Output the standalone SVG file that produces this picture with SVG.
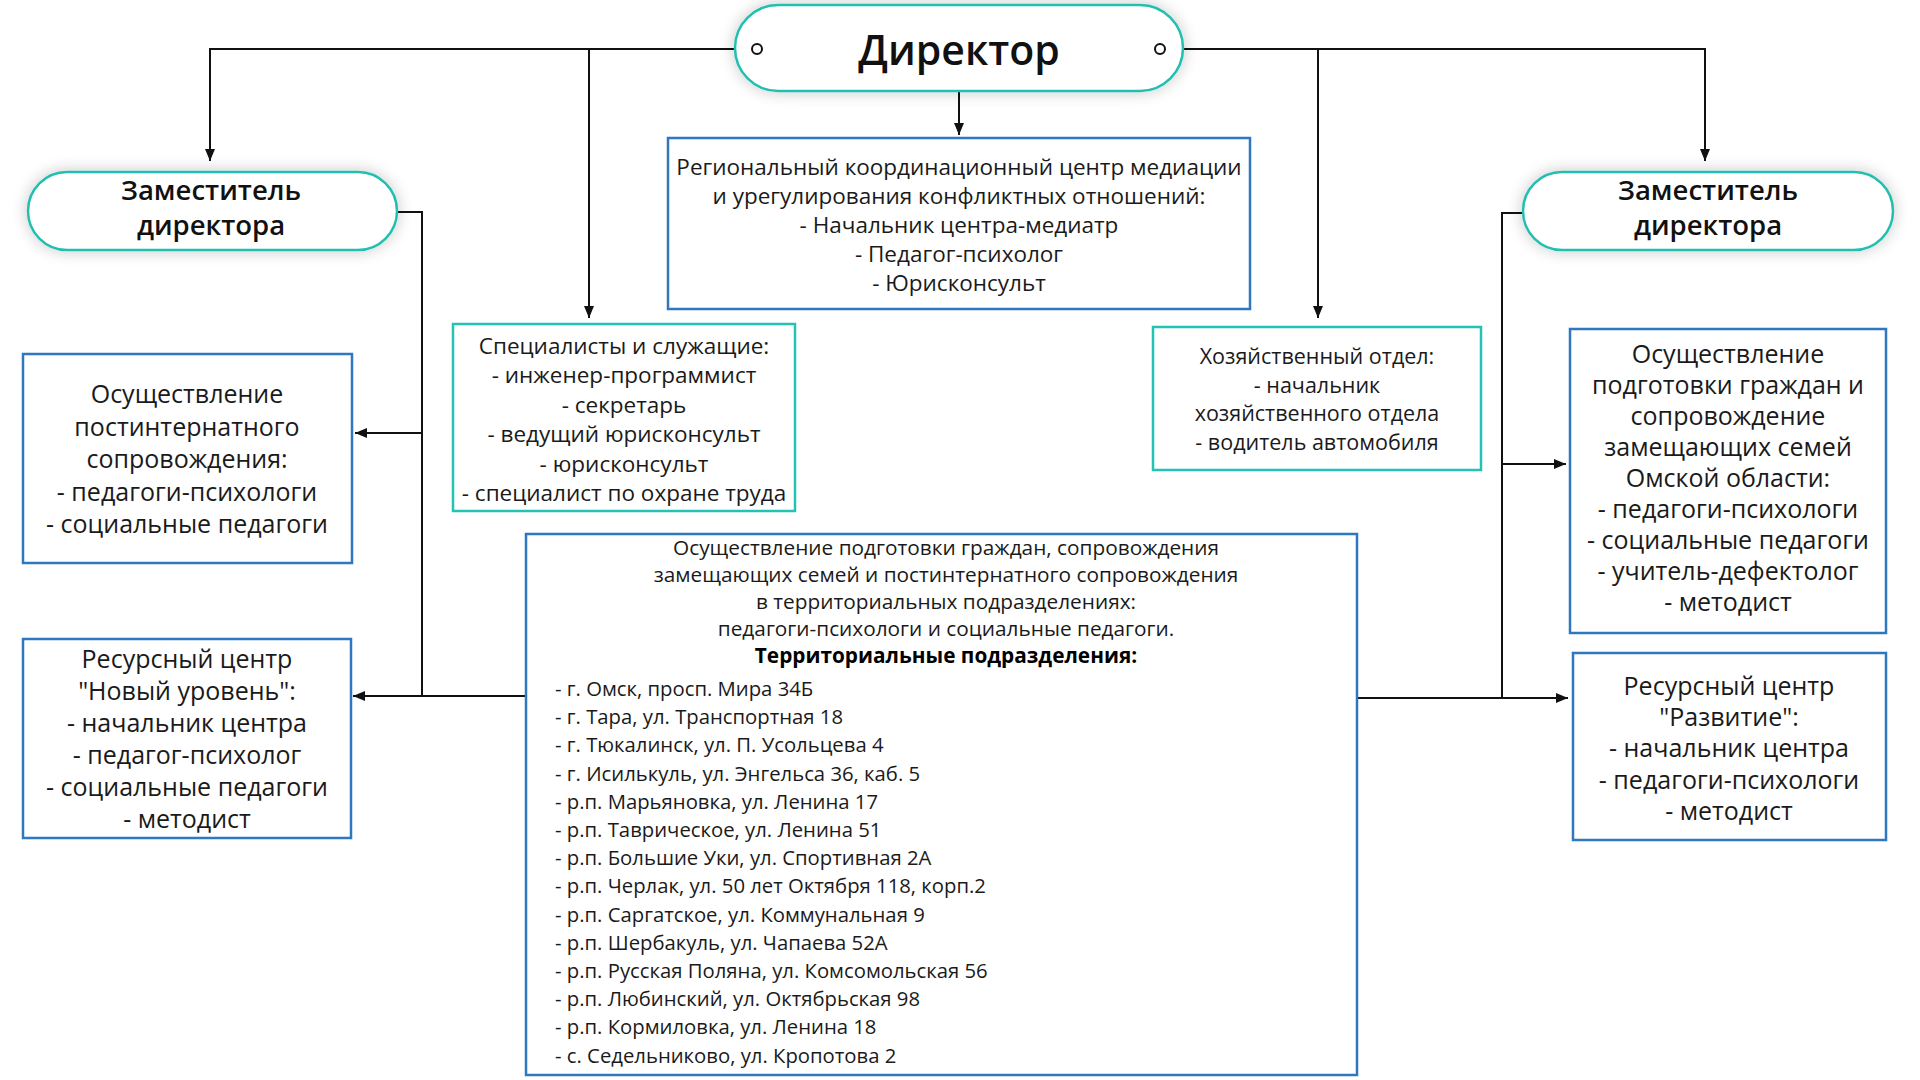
<svg xmlns="http://www.w3.org/2000/svg" width="1920" height="1080" viewBox="0 0 1920 1080">
<style>
text{font-family:"Open Sans","Noto Sans","DejaVu Sans",sans-serif;fill:#1a1a1a;text-anchor:middle}
.pill{fill:#fff;stroke:#22bfb0;stroke-width:2.5;filter:url(#sh)}
.bb{fill:#fff;stroke:#2f78bf;stroke-width:2.5}
.tb{fill:#fff;stroke:#22c2b5;stroke-width:2.5}
.conn{fill:none;stroke:#111;stroke-width:2}
.arr{marker-end:url(#ah)}
.pt{font-size:27.5px;font-weight:600;fill:#111}
.f25{font-size:25px}
.f22{font-size:22.5px}
.f21{font-size:21.5px}
.f20{font-size:20.3px}
.fh{font-size:20.8px}
.lst{text-anchor:start}
.dot{fill:#fff;stroke:#111;stroke-width:2}
</style>
<defs>
<filter id="sh" x="-20%" y="-40%" width="140%" height="180%">
<feGaussianBlur in="SourceAlpha" stdDeviation="8"/>
<feComponentTransfer><feFuncA type="linear" slope="0.22"/></feComponentTransfer>
<feMerge><feMergeNode/><feMergeNode in="SourceGraphic"/></feMerge>
</filter>
<marker id="ah" viewBox="0 0 12 10" markerWidth="12" markerHeight="10" refX="12" refY="5" orient="auto" markerUnits="userSpaceOnUse">
<path d="M0,0 L12,5 L0,10 z" fill="#111"/>
</marker>
</defs>
<rect width="1920" height="1080" fill="#fff"/>

<g id="connectors">
<path class="conn arr" d="M752,49 H210 V161"/>
<path class="conn arr" d="M589,49 V318"/>
<path class="conn arr" d="M1165,49 H1705 V161"/>
<path class="conn arr" d="M1318,49 V318"/>
<path class="conn arr" d="M959,85 V135"/>
<path class="conn" d="M397,212 H422 V696"/>
<path class="conn arr" d="M422,433 H355"/>
<path class="conn arr" d="M526,696 H353"/>
<path class="conn" d="M1523,213 H1502 V698"/>
<path class="conn arr" d="M1502,464 H1566"/>
<path class="conn arr" d="M1357,698 H1568"/>
</g>

<g id="director">
<rect class="pill" x="735" y="5" width="448" height="86" rx="43"/>
<text x="959" y="65" style="font-size:41px;font-weight:600;fill:#111">Директор</text>
<circle class="dot" cx="757" cy="49" r="5"/>
<circle class="dot" cx="1160" cy="49" r="5"/>
</g>

<g id="deputy-left">
<rect class="pill" x="28" y="172" width="369" height="78" rx="39"/>
<text class="pt" x="211" y="200">Заместитель</text>
<text class="pt" x="211" y="235">директора</text>
</g>

<g id="deputy-right">
<rect class="pill" x="1523" y="172" width="370" height="78" rx="39"/>
<text class="pt" x="1708" y="200">Заместитель</text>
<text class="pt" x="1708" y="235">директора</text>
</g>

<g id="regional-center">
<rect class="bb" x="668" y="138" width="582" height="171"/>
<text class="f22" x="959" y="175">Региональный координационный центр медиации</text>
<text class="f22" x="959" y="204">и урегулирования конфликтных отношений:</text>
<text class="f22" x="959" y="233">- Начальник центра-медиатр</text>
<text class="f22" x="959" y="262">- Педагог-психолог</text>
<text class="f22" x="959" y="291">- Юрисконсульт</text>
</g>

<g id="specialists">
<rect class="tb" x="453" y="324" width="342" height="187"/>
<text class="f22" x="624" y="354">Специалисты и служащие:</text>
<text class="f22" x="624" y="383">- инженер-программист</text>
<text class="f22" x="624" y="413">- секретарь</text>
<text class="f22" x="624" y="442">- ведущий юрисконсульт</text>
<text class="f22" x="624" y="472">- юрисконсульт</text>
<text class="f22" x="624" y="501">- специалист по охране труда</text>
</g>

<g id="household">
<rect class="tb" x="1153" y="327" width="328" height="143"/>
<text class="f21" x="1317" y="364">Хозяйственный отдел:</text>
<text class="f21" x="1317" y="393">- начальник</text>
<text class="f21" x="1317" y="421">хозяйственного отдела</text>
<text class="f21" x="1317" y="450">- водитель автомобиля</text>
</g>

<g id="post-internat">
<rect class="bb" x="23" y="354" width="329" height="209"/>
<text class="f25" x="187" y="403">Осуществление</text>
<text class="f25" x="187" y="436">постинтернатного</text>
<text class="f25" x="187" y="468">сопровождения:</text>
<text class="f25" x="187" y="501">- педагоги-психологи</text>
<text class="f25" x="187" y="533">- социальные педагоги</text>
</g>

<g id="resource-novy">
<rect class="bb" x="23" y="639" width="328" height="199"/>
<text class="f25" x="187" y="668">Ресурсный центр</text>
<text class="f25" x="187" y="700">"Новый уровень":</text>
<text class="f25" x="187" y="732">- начальник центра</text>
<text class="f25" x="187" y="764">- педагог-психолог</text>
<text class="f25" x="187" y="796">- социальные педагоги</text>
<text class="f25" x="187" y="828">- методист</text>
</g>

<g id="training-omsk">
<rect class="bb" x="1570" y="329" width="316" height="304"/>
<text class="f25" x="1728" y="363">Осуществление</text>
<text class="f25" x="1728" y="394">подготовки граждан и</text>
<text class="f25" x="1728" y="425">сопровождение</text>
<text class="f25" x="1728" y="456">замещающих семей</text>
<text class="f25" x="1728" y="487">Омской области:</text>
<text class="f25" x="1728" y="518">- педагоги-психологи</text>
<text class="f25" x="1728" y="549">- социальные педагоги</text>
<text class="f25" x="1728" y="580">- учитель-дефектолог</text>
<text class="f25" x="1728" y="611">- методист</text>
</g>

<g id="resource-razvitie">
<rect class="bb" x="1573" y="653" width="313" height="187"/>
<text class="f25" x="1729" y="695">Ресурсный центр</text>
<text class="f25" x="1729" y="726">"Развитие":</text>
<text class="f25" x="1729" y="757">- начальник центра</text>
<text class="f25" x="1729" y="789">- педагоги-психологи</text>
<text class="f25" x="1729" y="820">- методист</text>
</g>

<g id="territorial">
<rect class="bb" x="526" y="534" width="831" height="541"/>
<text class="fh" x="946" y="555">Осуществление подготовки граждан, сопровождения</text>
<text class="fh" x="946" y="582">замещающих семей и постинтернатного сопровождения</text>
<text class="fh" x="946" y="609">в территориальных подразделениях:</text>
<text class="fh" x="946" y="636">педагоги-психологи и социальные педагоги.</text>
<text class="fh" x="946" y="663" style="font-weight:700;fill:#000">Территориальные подразделения:</text>
<text class="f20 lst" x="555" y="696">- г. Омск, просп. Мира 34Б</text>
<text class="f20 lst" x="555" y="724">- г. Тара, ул. Транспортная 18</text>
<text class="f20 lst" x="555" y="752">- г. Тюкалинск, ул. П. Усольцева 4</text>
<text class="f20 lst" x="555" y="781">- г. Исилькуль, ул. Энгельса 36, каб. 5</text>
<text class="f20 lst" x="555" y="809">- р.п. Марьяновка, ул. Ленина 17</text>
<text class="f20 lst" x="555" y="837">- р.п. Таврическое, ул. Ленина 51</text>
<text class="f20 lst" x="555" y="865">- р.п. Большие Уки, ул. Спортивная 2А</text>
<text class="f20 lst" x="555" y="893">- р.п. Черлак, ул. 50 лет Октября 118, корп.2</text>
<text class="f20 lst" x="555" y="922">- р.п. Саргатское, ул. Коммунальная 9</text>
<text class="f20 lst" x="555" y="950">- р.п. Шербакуль, ул. Чапаева 52А</text>
<text class="f20 lst" x="555" y="978">- р.п. Русская Поляна, ул. Комсомольская 56</text>
<text class="f20 lst" x="555" y="1006">- р.п. Любинский, ул. Октябрьская 98</text>
<text class="f20 lst" x="555" y="1034">- р.п. Кормиловка, ул. Ленина 18</text>
<text class="f20 lst" x="555" y="1063">- с. Седельниково, ул. Кропотова 2</text>
</g>
</svg>
